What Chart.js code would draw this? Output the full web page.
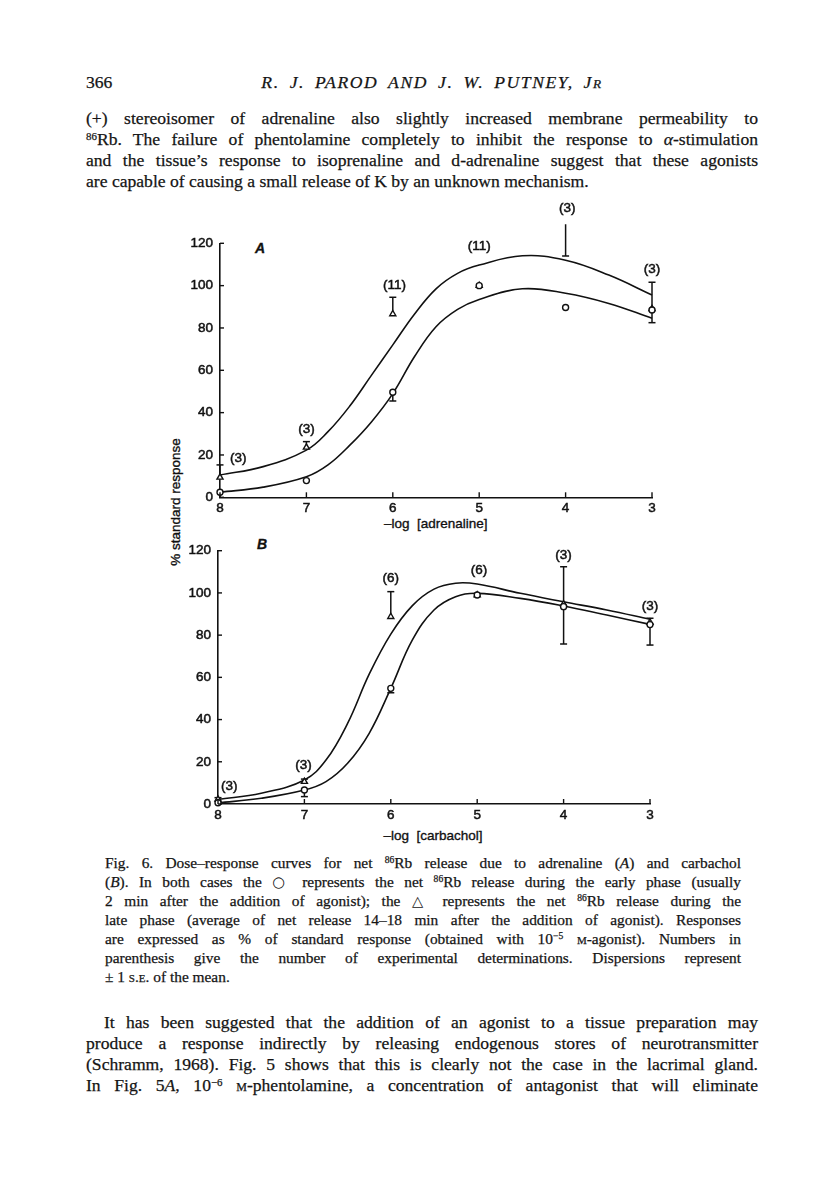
<!DOCTYPE html>
<html><head><meta charset="utf-8">
<script src="https://cdn.jsdelivr.net/npm/chart.js@4.4.1/dist/chart.umd.min.js"></script>
<style>
body{margin:0;background:#fff;}
#page{position:relative;width:816px;height:1183px;overflow:hidden;background:#fff;color:#141414;font-family:"Liberation Serif",serif;-webkit-text-stroke:0.25px #141414;}
.ln{position:absolute;}
.j{text-align:justify;text-align-last:justify;}
.body{font-size:17.6px;line-height:21px;}
.cap{font-size:15.4px;line-height:19px;}
sup{font-size:0.62em;line-height:0;vertical-align:0.5em;}
.sc{font-variant:small-caps;}
.sym{font-family:"DejaVu Sans",sans-serif;font-size:0.95em;-webkit-text-stroke:0;}
.ax{position:absolute;font-family:"Liberation Sans",Arial,sans-serif;font-size:13.5px;color:#111;white-space:nowrap;transform:translate(-50%,-50%);-webkit-text-stroke:0.35px #111;}
canvas{position:absolute;}
</style>
</head>
<body>
<div id="page">
  <div class="ln body" style="left:86px;top:72px;">366</div>
  <div class="ln body" style="left:432px;top:72px;transform:translateX(-50%);white-space:nowrap;font-style:italic;letter-spacing:1.6px;word-spacing:4px;">R. J. PAROD AND J. W. PUTNEY, J<span style="font-size:0.75em">R</span></div>

  <div class="ln body j" style="left:86px;top:107.5px;width:672px;">(+) stereoisomer of adrenaline also slightly increased membrane permeability to</div>
  <div class="ln body j" style="left:86px;top:128.5px;width:672px;"><sup>86</sup>Rb. The failure of phentolamine completely to inhibit the response to <i>α</i>-stimulation</div>
  <div class="ln body j" style="left:86px;top:149.5px;width:672px;">and the tissue’s response to isoprenaline and d-adrenaline suggest that these agonists</div>
  <div class="ln body" style="left:86px;top:170.5px;width:672px;">are capable of causing a small release of K by an unknown mechanism.</div>

  <div class="ax" style="left:174.5px;top:502px;transform:translate(-50%,-50%) rotate(-90deg);">% standard response</div>
  <div class="ax" style="left:260px;top:248px;font-weight:bold;font-style:italic;font-size:14px;">A</div>
  <div class="ax" style="left:262px;top:544px;font-weight:bold;font-style:italic;font-size:14px;">B</div>
  <div class="ax" style="left:435.7px;top:523px;">–log&nbsp; [adrenaline]</div>
  <div class="ax" style="left:433px;top:835px;">–log&nbsp; [carbachol]</div>

  <canvas id="chartA" width="520" height="350" style="left:160px;top:195px;"></canvas>
  <canvas id="chartB" width="520" height="345" style="left:160px;top:505px;"></canvas>

  <div class="ln cap j" style="left:105px;top:852.5px;width:636px;">Fig. 6. Dose–response curves for net <sup>86</sup>Rb release due to adrenaline (<i>A</i>) and carbachol</div>
  <div class="ln cap j" style="left:105px;top:871.5px;width:636px;">(<i>B</i>). In both cases the <span class="sym">○</span> represents the net <sup>86</sup>Rb release during the early phase (usually</div>
  <div class="ln cap j" style="left:105px;top:890.5px;width:636px;">2 min after the addition of agonist); the <span class="sym">△</span> represents the net <sup>86</sup>Rb release during the</div>
  <div class="ln cap j" style="left:105px;top:909.5px;width:636px;">late phase (average of net release 14–18 min after the addition of agonist). Responses</div>
  <div class="ln cap j" style="left:105px;top:928.5px;width:636px;">are expressed as % of standard response (obtained with 10<sup>−5</sup> <span class="sc">m</span>-agonist). Numbers in</div>
  <div class="ln cap j" style="left:105px;top:947.5px;width:636px;">parenthesis give the number of experimental determinations. Dispersions represent</div>
  <div class="ln cap" style="left:105px;top:966.5px;width:636px;">± 1 <span class="sc">s.e.</span> of the mean.</div>

  <div class="ln body j" style="left:104px;top:1011.5px;width:654px;">It has been suggested that the addition of an agonist to a tissue preparation may</div>
  <div class="ln body j" style="left:86px;top:1032.5px;width:672px;">produce a response indirectly by releasing endogenous stores of neurotransmitter</div>
  <div class="ln body j" style="left:86px;top:1053.5px;width:672px;">(Schramm, 1968). Fig. 5 shows that this is clearly not the case in the lacrimal gland.</div>
  <div class="ln body j" style="left:86px;top:1074.5px;width:672px;">In Fig. 5<i>A</i>, 10<sup>−6</sup> <span class="sc">m</span>-phentolamine, a concentration of antagonist that will eliminate</div>
</div>

<script>
// ---------- data ----------
const doses = [8, 7, 6, 5, 4, 3];            // -log [agonist]
const xTickValues = [8, 7, 6, 5, 4, 3];
const yTickValues = [0, 20, 40, 60, 80, 100, 120];

// Panel A (adrenaline)
const earlyA   = [2.4, 7.9, 49.6, 100, 89.7, 88.5];   // circles
const earlyLoA = [null, null, 45.5, null, null, 82.5];
const earlyHiA = [null, null, null, null, null, 101.6];
const lateA    = [9.4, 23.6, 86.6, 100, 129, 89];     // triangles
const lateLoA  = [null, null, null, null, 114, null];
const lateHiA  = [15.3, 26.3, 94.5, null, null, null];
const countsA  = ['(3)', '(3)', '(11)', '(11)', '(3)', '(3)'];
const countXA  = [7.79, 7, 5.98, 5, 3.98, 3];
const countYA  = [18.6, 32, 100.3, 118.7, 136.5, 107.7];

// Fitted curves
const curveDoses = [8, 7.5, 7, 6.75, 6.5, 6.25, 6, 5.75, 5.5, 5.25, 5, 4.5, 4, 3.5, 3];
const fitLateA  = [10.5, 14.5, 22.3, 31, 43, 57.5, 72, 86.5, 98.5, 105.8, 109.7, 114.1, 112, 105, 95.6];
const fitEarlyA = [2.4, 4.8, 9.7, 15.3, 24.5, 35.5, 49, 66.4, 80.6, 88.8, 93.5, 98.5, 96.4, 91.6, 84.6];

// Panel B (carbachol)
const earlyB   = [0.6, 6.6, 54.8, 99, 93.5, 85];
const earlyLoB = [null, 3.5, 52.7, null, 75.8, 75.3];
const earlyHiB = [null, null, null, null, null, null];
const lateB    = [2.2, 10.6, 88.7, 99, 94.7, 86];
const lateLoB  = [null, null, null, null, null, null];
const lateHiB  = [3, 11.8, 100.6, null, 112.4, 88];
const countsB  = ['(3)', '(3)', '(6)', '(6)', '(3)', '(3)'];
const countXB  = [7.87, 7.01, 6, 4.98, 4, 3];
const countYB  = [8.2, 18.5, 106.9, 110.5, 117.9, 93.8];
const fitLateB  = [2.2, 5.1, 11.4, 20.8, 38.2, 61.5, 80.5, 94, 101.8, 104.6, 104.2, 99.8, 95.8, 91.9, 87.5];
const fitEarlyB = [0.5, 2.7, 6.6, 10.6, 19.3, 33.5, 54.8, 77.7, 91.9, 98.2, 99.8, 97.4, 93.8, 89.5, 85.1];

// ---------- helpers ----------
const INK = '#111';
const pts = (xs, ys) => xs.map((x, i) => ({x, y: ys[i]}));
const TICKFONT = {family: 'Liberation Sans', size: 13.5};

const decor = {
  id: 'decor',
  beforeDatasetsDraw(chart, args, o) {
    const {ctx, scales: {x, y}} = chart;
    ctx.save();
    ctx.strokeStyle = INK; ctx.lineWidth = 1.5;
    o.errs.forEach(e => {
      e.vals.forEach((v, i) => {
        const lo = e.lo[i], hi = e.hi[i];
        if (lo == null && hi == null) return;
        const px = x.getPixelForValue(doses[i]);
        const y1 = y.getPixelForValue(lo == null ? v : lo);
        const y2 = y.getPixelForValue(hi == null ? v : hi);
        ctx.beginPath(); ctx.moveTo(px, y1); ctx.lineTo(px, y2); ctx.stroke();
        [lo, hi].forEach(c => {
          if (c == null) return;
          const py = y.getPixelForValue(c);
          ctx.beginPath(); ctx.moveTo(px - 3.5, py); ctx.lineTo(px + 3.5, py); ctx.stroke();
        });
      });
    });
    ctx.restore();
  },
  afterDraw(chart, args, o) {
    const {ctx, chartArea: a, scales: {x, y}} = chart;
    ctx.save();
    ctx.strokeStyle = INK; ctx.lineWidth = 1.4;
    yTickValues.forEach(v => {
      const py = y.getPixelForValue(v);
      ctx.beginPath(); ctx.moveTo(a.left, py); ctx.lineTo(a.left + 4, py); ctx.stroke();
    });
    xTickValues.forEach(v => {
      const px = x.getPixelForValue(v);
      ctx.beginPath(); ctx.moveTo(px, a.bottom); ctx.lineTo(px, a.bottom - 5); ctx.stroke();
    });
    ctx.fillStyle = INK;
    ctx.font = '13.5px "Liberation Sans", Arial, sans-serif';
    ctx.textAlign = 'center'; ctx.textBaseline = 'middle';
    ctx.lineWidth = 0.5;
    o.labels.forEach((t, i) => {
      const px = x.getPixelForValue(o.lx[i]), py = y.getPixelForValue(o.ly[i]);
      ctx.strokeText(t, px, py);
      ctx.fillText(t, px, py);
    });
    ctx.restore();
  }
};

function makePanel(id, pad, d) {
  const pointDs = (vals, style, r) => ({
    data: pts(doses, vals), showLine: false, pointStyle: style,
    pointRadius: r, pointBackgroundColor: '#fff', pointBorderColor: INK,
    pointBorderWidth: 1.4, clip: false
  });
  const lineDs = (vals) => ({
    data: pts(curveDoses, vals), showLine: true, pointRadius: 0,
    borderColor: INK, borderWidth: 1.6, tension: 0.4, clip: false
  });
  return new Chart(document.getElementById(id), {
    type: 'scatter',
    data: {datasets: [
      pointDs(d.early, 'circle', 3),
      pointDs(d.late, 'triangle', 3.5),
      lineDs(d.fitLate),
      lineDs(d.fitEarly)
    ]},
    options: {
      responsive: false, animation: false, devicePixelRatio: 1,
      layout: {padding: pad},
      plugins: {
        legend: {display: false}, tooltip: {enabled: false},
        decor: {
          errs: [
            {vals: d.early, lo: d.earlyLo, hi: d.earlyHi},
            {vals: d.late, lo: d.lateLo, hi: d.lateHi}
          ],
          labels: d.counts, lx: d.cx, ly: d.cy
        }
      },
      scales: {
        x: {
          type: 'linear', min: 3, max: 8, reverse: true,
          afterFit(s) { s.height = 40; },
          afterBuildTicks(s) { s.ticks = xTickValues.map(v => ({value: v})); },
          grid: {display: false, drawTicks: false},
          border: {display: true, color: INK, width: 1.6},
          ticks: {padding: 3, color: INK, autoSkip: false, maxRotation: 0, font: TICKFONT,
                  textStrokeColor: INK, textStrokeWidth: 0.5}
        },
        y: {
          type: 'linear', min: 0, max: 120,
          afterFit(s) { s.width = 50; },
          afterBuildTicks(s) { s.ticks = yTickValues.map(v => ({value: v})); },
          grid: {display: false, drawTicks: false},
          border: {display: true, color: INK, width: 1.6},
          ticks: {padding: 7, color: INK, font: TICKFONT,
                  textStrokeColor: INK, textStrokeWidth: 0.5}
        }
      }
    },
    plugins: [decor]
  });
}

makePanel('chartA', {left: 10, right: 28, top: 48.3, bottom: 7.7}, {
  early: earlyA, earlyLo: earlyLoA, earlyHi: earlyHiA,
  late: lateA, lateLo: lateLoA, lateHi: lateHiA,
  fitLate: fitLateA, fitEarly: fitEarlyA,
  counts: countsA, cx: countXA, cy: countYA
});
makePanel('chartB', {left: 8, right: 30, top: 45.7, bottom: 6}, {
  early: earlyB, earlyLo: earlyLoB, earlyHi: earlyHiB,
  late: lateB, lateLo: lateLoB, lateHi: lateHiB,
  fitLate: fitLateB, fitEarly: fitEarlyB,
  counts: countsB, cx: countXB, cy: countYB
});

// keep each line on one line
document.querySelectorAll('.ln').forEach(el => {
  const lh = parseFloat(getComputedStyle(el).lineHeight);
  let fs = parseFloat(getComputedStyle(el).fontSize);
  let n = 0;
  while (el.scrollHeight > lh * 1.5 && n < 40) { fs -= 0.2; el.style.fontSize = fs + 'px'; n++; }
});
</script>
</body></html>
